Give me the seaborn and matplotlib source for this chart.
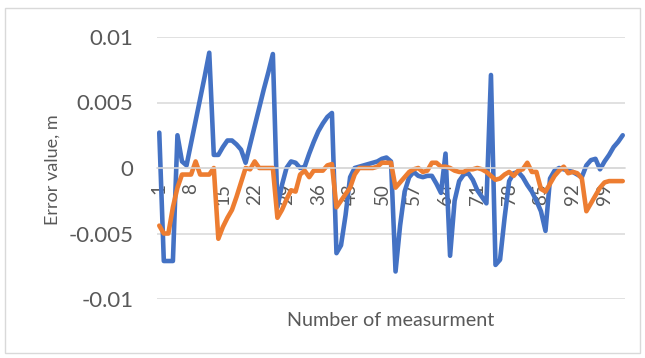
import matplotlib
matplotlib.use("Agg")
import matplotlib.pyplot as plt
import pandas as pd
import seaborn as sns
from matplotlib.patches import Rectangle

# measurement numbers and the two error series (m)
measurement = list(range(1, 104))

error_blue = [
    0.0027, -0.0071, -0.0071, -0.0071, 0.0025, 0.0005, 0.0002, 0.0019, 0.0036, 0.0053,
    0.0070, 0.0088, 0.0010, 0.0010, 0.0016, 0.0021, 0.0021, 0.0018, 0.0014, 0.0004,
    0.0018, 0.0032, 0.0046, 0.0060, 0.0073, 0.0087, -0.0030, -0.0013, 0.0000, 0.0005,
    0.0004, 0.0000, 0.0001, 0.0011, 0.0020, 0.0028, 0.0034, 0.0039, 0.0042, -0.0065,
    -0.0059, -0.0036, -0.0007, 0.0000, 0.0001, 0.0002, 0.0003, 0.0004, 0.0005, 0.0007,
    0.0008, 0.0005, -0.0079, -0.0044, -0.0018, -0.0007, -0.0003, -0.0006, -0.0007, -0.0006,
    -0.0006, -0.0012, -0.0019, 0.0011, -0.0067, -0.0025, -0.0010, -0.0005, -0.0004, -0.0009,
    -0.0017, -0.0022, -0.0027, 0.0071, -0.0074, -0.0070, -0.0038, -0.0010, -0.0004, -0.0003,
    -0.0007, -0.0013, -0.0018, -0.0025, -0.0033, -0.0048, -0.0008, -0.0002, 0.0000, -0.0001,
    -0.0002, -0.0003, -0.0005, -0.0007, 0.0002, 0.0006, 0.0007, -0.0001, 0.0005, 0.0010,
    0.0016, 0.0020, 0.0025,
]

error_orange = [
    -0.0044, -0.0050, -0.0050, -0.0030, -0.0015, -0.0005, -0.0005, -0.0005, 0.0005, -0.0005,
    -0.0005, -0.0005, 0.0000, -0.0054, -0.0045, -0.0038, -0.0032, -0.0022, -0.0011, 0.0000,
    -0.0001, 0.0005, 0.0000, 0.0000, 0.0000, 0.0000, -0.0038, -0.0032, -0.0024, -0.0017,
    -0.0018, -0.0005, -0.0002, -0.0007, -0.0002, -0.0002, -0.0002, 0.0002, 0.0003, -0.0030,
    -0.0025, -0.0020, -0.0015, -0.0005, 0.0000, 0.0000, 0.0000, 0.0000, 0.0001, 0.0004,
    0.0004, 0.0004, -0.0015, -0.0011, -0.0007, -0.0003, -0.0001, 0.0000, -0.0003, -0.0002,
    0.0004, 0.0004, 0.0001, 0.0001, 0.0000, -0.0002, -0.0003, -0.0003, -0.0001, -0.0001,
    0.0000, -0.0001, -0.0003, -0.0006, -0.0009, -0.0008, -0.0005, -0.0003, -0.0006, -0.0002,
    -0.0001, 0.0004, -0.0003, -0.0003, -0.0016, -0.0018, -0.0012, -0.0006, -0.0002, 0.0001,
    -0.0004, -0.0003, -0.0004, -0.0008, -0.0033, -0.0027, -0.0021, -0.0015, -0.0011, -0.0010,
    -0.0010, -0.0010, -0.0010,
]

x_ticks = [1, 8, 15, 22, 29, 36, 43, 50, 57, 64, 71, 78, 85, 92, 99]
y_ticks = [-0.01, -0.005, 0, 0.005, 0.01]
y_tick_labels = ["-0.01", "-0.005", "0", "0.005", "0.01"]

df = pd.DataFrame({
    "measurement": measurement * 2,
    "error": error_blue + error_orange,
    "series": ["blue"] * len(measurement) + ["orange"] * len(measurement),
})

sns.set_style("white")
plt.rcParams["font.family"] = ["Lato", "DejaVu Sans"]

text_col = "#595959"
grid_col = "#d9d9d9"

fig = plt.figure(figsize=(6.45, 3.58), dpi=100)
ax = fig.add_axes([157 / 645, 1 - 299 / 358, 468 / 645, 262 / 358])

sns.lineplot(data=df, x="measurement", y="error", hue="series",
             palette={"blue": "#4472C4", "orange": "#ED7D31"},
             linewidth=3.3, legend=False, ax=ax,
             solid_joinstyle="round", solid_capstyle="round")

# category axis crosses at zero (set before tick labels: it resets ticks)
for s in ["left", "right", "top"]:
    ax.spines[s].set_visible(False)
ax.spines["bottom"].set_position(("data", 0))
ax.spines["bottom"].set_color(grid_col)
ax.spines["bottom"].set_linewidth(1.1)

ax.set_xlim(0.5, 103.5)
ax.set_ylim(-0.01, 0.01)
ax.set_yticks(y_ticks)
ax.set_yticklabels(y_tick_labels)
ax.set_xticks(x_ticks)
ax.set_xticklabels([str(t) for t in x_ticks])
ax.grid(axis="y", color=grid_col, linewidth=1.1)
ax.set_axisbelow(True)

ax.tick_params(axis="y", length=0, pad=17, labelsize=16, labelcolor=text_col)
ax.tick_params(axis="x", length=0, pad=11, labelsize=13.5, labelcolor=text_col,
               labelrotation=90)
ax.set_xlabel("")
ax.set_ylabel("")

fig.text(53 / 645, 1 - 170 / 358, "Error value, m", rotation=90,
         ha="center", va="center", fontsize=13, color=text_col)
fig.text(391 / 645, 1 - 320 / 358, "Number of measurment",
         ha="center", va="center", fontsize=14.2, color=text_col)

fig.patches.append(Rectangle((5 / 645, 1 - 353 / 358), 635 / 645, 345 / 358,
                             transform=fig.transFigure, fill=False,
                             edgecolor=grid_col, linewidth=1))

fig.savefig("out.png", dpi=100)
